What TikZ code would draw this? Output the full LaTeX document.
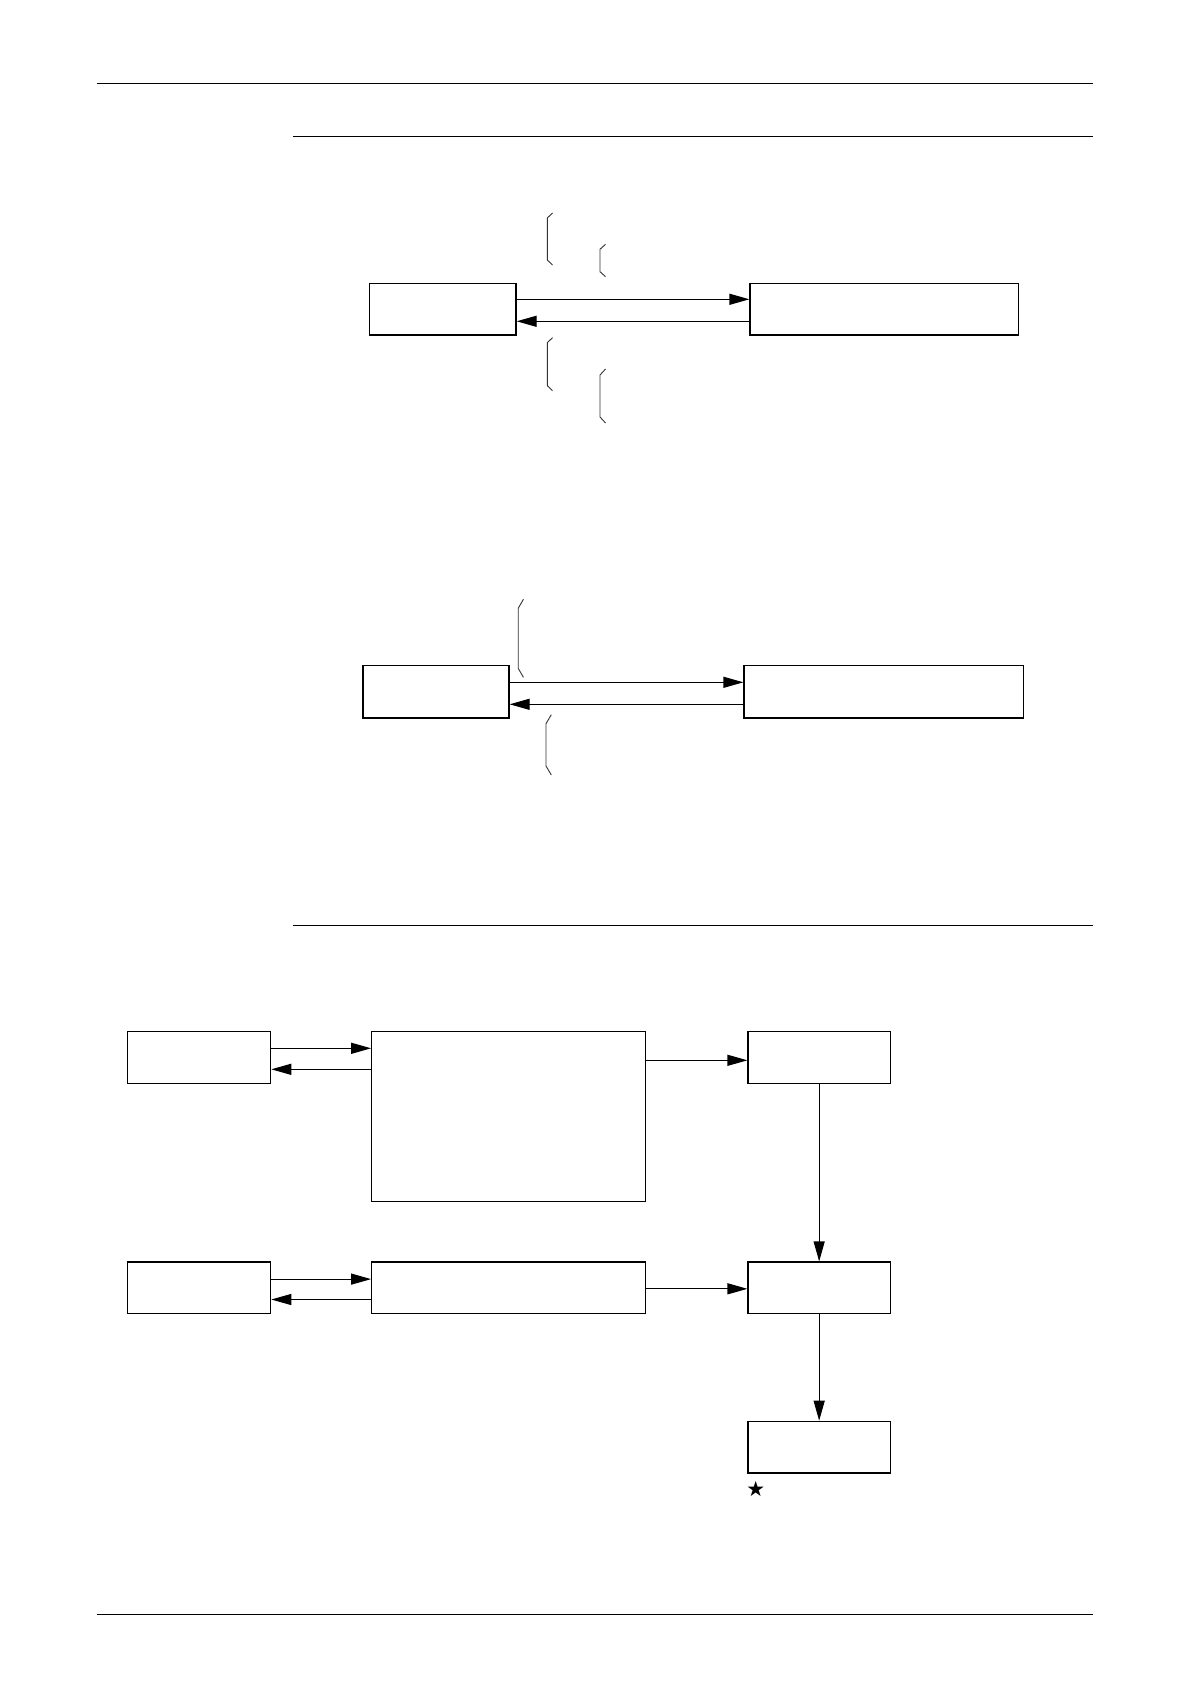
\documentclass[tikz,border=0pt]{standalone}
\usepackage{fontspec}
\newfontfamily\starfont{DejaVu Sans}
\usetikzlibrary{arrows.meta}
\begin{document}
\begin{tikzpicture}[x=0.5pt,y=-0.5pt,
  bx/.style={draw, line width=0.6pt, inner sep=0pt},
  rule/.style={line width=0.6pt},
  arr/.style={line width=0.6pt, -{Triangle[length=10pt,width=5.5pt]}},
  brace/.style={line width=0.45pt, draw=black!80}]
\useasboundingbox (0,0) rectangle (1190,1684);
% page rules
\draw[rule] (96.7,83.8) -- (1093,83.8);
\draw[rule] (293,136.4) -- (1093,136.4);
\draw[rule] (293,925.8) -- (1093,925.8);
\draw[rule] (96.7,1614.2) -- (1093,1614.2);
% diagram 1
\node[bx, minimum width=73.25pt, minimum height=25.85pt] (A) at (442.75,309.15) {};
\node[bx, minimum width=134.1pt, minimum height=25.85pt] (B) at (884.1,309.15) {};
\coordinate (y1) at (0,299.3);
\coordinate (y2) at (0,321.3);
\draw[arr] (A.east |- y1) -- (B.west |- y1);
\draw[arr] (B.west |- y2) -- (A.east |- y2);
\draw[brace] (552.5,213) -- (547.3,218) -- (547.3,260) -- (552.5,265);
\draw[brace] (605.5,244.3) -- (600,249.3) -- (600,271.7) -- (605.5,276.7);
\draw[brace] (552.5,337.7) -- (547.3,342.7) -- (547.3,385.7) -- (552.5,390.7);
\draw[brace] (605.5,369) -- (600,375) -- (600,417) -- (605.5,423);
% diagram 2
\node[bx, minimum width=73pt, minimum height=26.25pt] (C) at (436,691.75) {};
\node[bx, minimum width=139.75pt, minimum height=26.25pt] (D) at (883.75,691.75) {};
\coordinate (y3) at (0,682.3);
\coordinate (y4) at (0,704.3);
\draw[arr] (C.east |- y3) -- (D.west |- y3);
\draw[arr] (D.west |- y4) -- (C.east |- y4);
\draw[brace] (523.4,599.3) -- (518.2,608.3) -- (518.2,668.3) -- (523.4,677.3);
\draw[brace] (551.3,714.7) -- (546,723.7) -- (546,766) -- (551.3,775);
% diagram 3
\node[bx, minimum width=71.45pt, minimum height=26pt] (E) at (199.25,1057.3) {};
\node[bx, minimum width=136.9pt, minimum height=85pt] (F) at (508.6,1116.3) {};
\node[bx, minimum width=71.15pt, minimum height=26pt] (G) at (819.15,1057.3) {};
\node[bx, minimum width=71.45pt, minimum height=25.75pt] (I) at (199.25,1287.75) {};
\node[bx, minimum width=136.9pt, minimum height=25.75pt] (J) at (508.6,1287.75) {};
\node[bx, minimum width=71.15pt, minimum height=25.75pt] (H) at (819.15,1287.75) {};
\node[bx, minimum width=71.15pt, minimum height=25.85pt] (K) at (819.15,1447.15) {};
\coordinate (y5) at (0,1048.3);
\coordinate (y6) at (0,1069.3);
\coordinate (y7) at (0,1060.3);
\coordinate (y8) at (0,1279.1);
\coordinate (y9) at (0,1299.5);
\coordinate (y10) at (0,1288.8);
\draw[arr] (E.east |- y5) -- (F.west |- y5);
\draw[arr] (F.west |- y6) -- (E.east |- y6);
\draw[arr] (F.east |- y7) -- (G.west |- y7);
\draw[arr] (G.south) -- (H.north);
\draw[arr] (I.east |- y8) -- (J.west |- y8);
\draw[arr] (J.west |- y9) -- (I.east |- y9);
\draw[arr] (J.east |- y10) -- (H.west |- y10);
\draw[arr] (H.south) -- (K.north);
\node[inner sep=0pt] (star) at (755.7,1489.3) {\starfont\fontsize{10.5}{11}\selectfont ★};
\end{tikzpicture}
\end{document}
